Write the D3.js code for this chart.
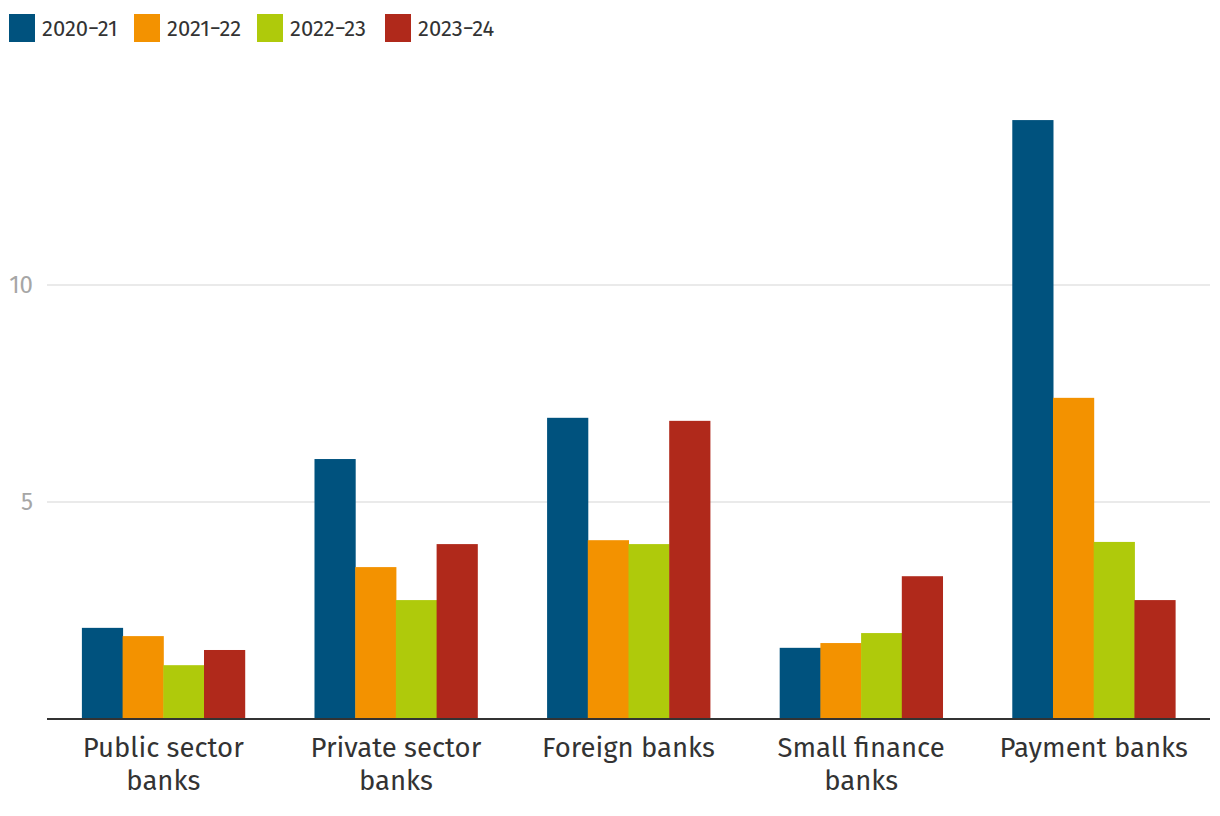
<!DOCTYPE html>
<html><head><meta charset="utf-8">
<script src="https://cdn.jsdelivr.net/npm/d3@7"></script>
<style>body{margin:0;background:#fff}svg{display:block}</style>
</head><body>
<svg id="c" width="1220" height="816"></svg>
<script>
const categories = [["Public sector","banks"],["Private sector","banks"],["Foreign banks"],["Small finance","banks"],["Payment banks"]];
const seriesNames = ["2020-21","2021-22","2022-23","2023-24"];
const s2020 = [2.10, 5.99, 6.94, 1.64, 13.80];
const s2021 = [1.91, 3.50, 4.12, 1.75, 7.40];
const s2022 = [1.24, 2.74, 4.03, 1.98, 4.08];
const s2023 = [1.59, 4.03, 6.87, 3.29, 2.74];
const yTicks = [5, 10];
const colors = ["#00527e","#f39200","#afca0b","#b0291b"];
const series = [s2020, s2021, s2022, s2023];

const svg = d3.select("#c");
const font = "'Fira Sans','Noto Sans',sans-serif";
const left = 47, right = 1210, bottom = 719;
const x = d3.scaleBand().domain(d3.range(categories.length)).range([left,right]).paddingInner(0.3).paddingOuter(0.15);
const x1 = d3.scaleBand().domain(d3.range(seriesNames.length)).range([0,x.bandwidth()]);
const y = d3.scaleLinear().domain([0,15]).range([bottom, bottom-15*43.4]);

// grid
svg.append("g").selectAll("line").data(yTicks).join("line")
  .attr("x1",left).attr("x2",right).attr("y1",d=>y(d)).attr("y2",d=>y(d))
  .attr("stroke","#e3e3e3").attr("stroke-width",1.5);
svg.append("g").selectAll("text").data(yTicks).join("text")
  .attr("x",33).attr("y",d=>y(d)).attr("dy","0.35em").attr("text-anchor","end")
  .attr("fill","#a6a6a6").attr("font-family",font).attr("font-size",24).text(d=>d);

// bars
const g = svg.append("g");
series.forEach((s,si)=>{
  g.append("g").selectAll("rect").data(s).join("rect")
   .attr("x",(d,i)=>x(i)+x1(si)).attr("width",x1.bandwidth()+0.5)
   .attr("y",d=>y(d)).attr("height",d=>y(0)-y(d)).attr("fill",colors[si]);
});

// axis line
svg.append("line").attr("x1",left).attr("x2",right).attr("y1",y(0)).attr("y2",y(0))
  .attr("stroke","#333").attr("stroke-width",2);

// category labels
const cl = svg.append("g").selectAll("text").data(categories).join("text")
  .attr("x",(d,i)=>x(i)+x.bandwidth()/2).attr("y",757).attr("text-anchor","middle")
  .attr("fill","#333").attr("font-family",font).attr("font-size",27.5);
cl.each(function(d){
  const t=d3.select(this);
  d.forEach((line,k)=>t.append("tspan").attr("x",t.attr("x")).attr("dy",k?33:0).text(line));
});

// legend
const legX = [9,134,257,385];
const lg = svg.append("g").selectAll("g").data(seriesNames).join("g")
  .attr("transform",(d,i)=>`translate(${legX[i]},14)`);
lg.append("rect").attr("width",26).attr("height",28).attr("fill",(d,i)=>colors[i]);
lg.append("text").attr("x",33).attr("y",14).attr("dy","0.35em").attr("fill","#333")
  .attr("font-family",font).attr("font-size",22).text(d=>d.replace("-","\u2212"));
</script>
</body></html>
